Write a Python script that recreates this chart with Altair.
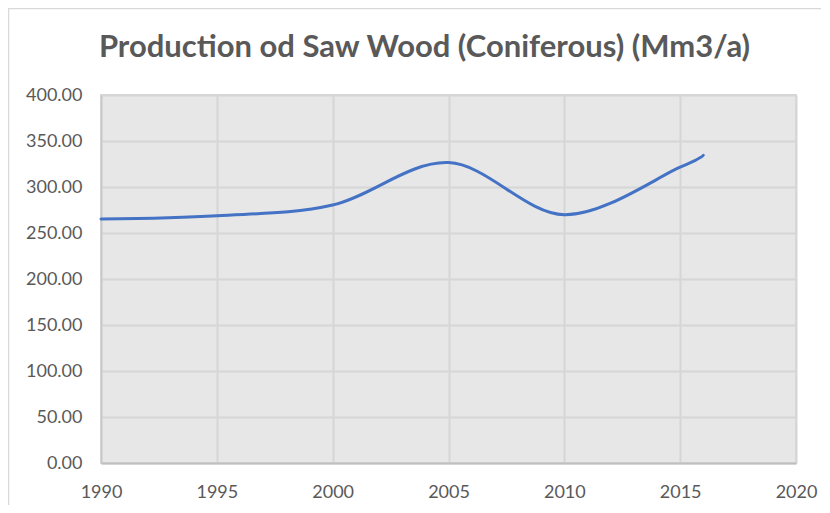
import altair as alt
import pandas as pd

years = [1990, 1995, 2000, 2005, 2010, 2015, 2016]
production = [265.2, 268.8, 280.4, 326.5, 269.8, 321.5, 334.5]
x_ticks = [1990, 1995, 2000, 2005, 2010, 2015, 2020]
y_ticks = [0, 50, 100, 150, 200, 250, 300, 350, 400]
title_text = "Production od Saw Wood (Coniferous) (Mm3/a)"

df = pd.DataFrame({"year": years, "value": production})
title_df = pd.DataFrame({"t": [title_text]})

FONT = "Lato"
GREY_TXT = "#595959"

line = alt.Chart(df).mark_line(
    interpolate="cardinal", color="#4472C4", strokeWidth=3, strokeCap="round"
).encode(
    x=alt.X("year:Q",
            scale=alt.Scale(domain=[1990, 2020], nice=False, zero=False),
            axis=alt.Axis(values=x_ticks, format="d", title=None,
                          labelPadding=20, tickSize=0, grid=True,
                          labelFlush=False,
                          domainColor="#bfbfbf", domainWidth=2)),
    y=alt.Y("value:Q",
            scale=alt.Scale(domain=[0, 400], nice=False),
            axis=alt.Axis(values=y_ticks, format=".2f", title=None,
                          labelPadding=19, tickSize=0, grid=True,
                          labelFlush=False,
                          domainColor="#c8c8c8", domainWidth=1.5)),
)

title_mark = alt.Chart(title_df).mark_text(
    font=FONT, fontSize=31, fontWeight="bold", color=GREY_TXT,
    align="center", baseline="alphabetic"
).encode(
    text="t:N", x=alt.value(323.5), y=alt.value(-38)
)

frame_top = alt.Chart(title_df).mark_rule(color="#d9d9d9", strokeWidth=1.5).encode(
    x=alt.value(-93), x2=alt.value(720), y=alt.value(-86.5)
)
frame_left = alt.Chart(title_df).mark_rule(color="#d9d9d9", strokeWidth=1.5).encode(
    x=alt.value(-92.5), y=alt.value(-87), y2=alt.value(410)
)

chart = alt.layer(frame_top, frame_left, line, title_mark).properties(
    width=695,
    height=368,
    padding={"left": 93, "top": 87, "right": 25, "bottom": 42},
    autosize=alt.AutoSizeParams(type="none"),
    background="white",
).configure_view(
    fill="#e7e7e7", stroke="#d9d9d9", strokeWidth=2
).configure_axis(
    labelFont=FONT, labelFontSize=18, labelColor=GREY_TXT,
    gridColor="#d6d6d6", gridWidth=2,
)

chart.save("out.html", embed_options={"renderer": "svg", "actions": False})
